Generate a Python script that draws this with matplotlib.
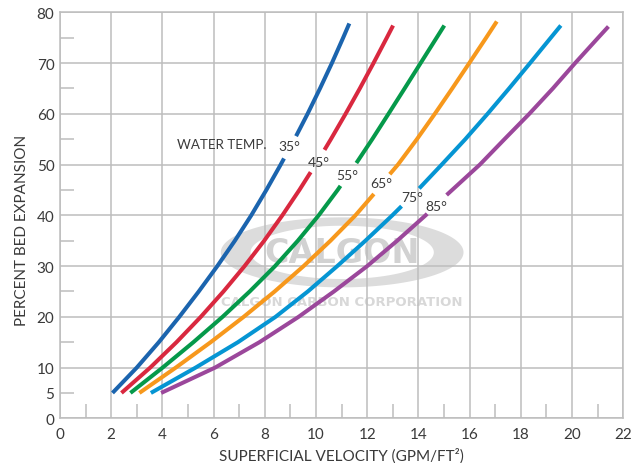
import matplotlib
matplotlib.use("Agg")
import matplotlib.pyplot as plt
import numpy as np
from matplotlib.patches import Polygon
from matplotlib.ticker import FixedLocator, FixedFormatter

plt.rcParams["font.family"] = ["Lato", "DejaVu Sans"]

# velocity (gpm/ft2) vs percent bed expansion
# each curve is broken where its temperature label sits
temps = ["35°", "45°", "55°", "65°", "75°", "85°"]
colors = ["#1b64ae", "#d9283f", "#05994a", "#f7981c", "#0595d3", "#9b479b"]

e35_low = [5, 10, 15, 20, 25, 30, 35, 40, 45, 50, 51.2]
v35_low = [2.05, 3.0, 3.86, 4.66, 5.42, 6.145, 6.83, 7.47, 8.06, 8.62, 8.75]
e35_up = [55.6, 60, 65, 70, 75, 77.8]
v35_up = [9.22, 9.67, 10.155, 10.62, 11.06, 11.30]

e45_low = [5, 10, 15, 20, 25, 30, 35, 40, 45, 48.5]
v45_low = [2.4, 3.525, 4.55, 5.5, 6.385, 7.21, 7.975, 8.685, 9.35, 9.79]
e45_up = [52.9, 55, 60, 65, 70, 75, 77.4]
v45_up = [10.33, 10.58, 11.155, 11.71, 12.245, 12.765, 13.01]

e55_low = [5, 10, 15, 20, 25, 30, 35, 40, 45, 45.8]
v55_low = [2.75, 4.01, 5.21, 6.35, 7.41, 8.40, 9.29, 10.105, 10.845, 10.955]
e55_up = [50.3, 55, 60, 65, 70, 75, 77.4]
v55_up = [11.575, 12.195, 12.83, 13.46, 14.085, 14.71, 15.01]

e65_low = [5, 10, 15, 20, 25, 30, 35, 40, 44.2]
v65_low = [3.1, 4.525, 5.885, 7.175, 8.385, 9.515, 10.565, 11.54, 12.26]
e65_up = [48.1, 50, 55, 60, 65, 70, 75, 78.2]
v65_up = [12.88, 13.2, 13.94, 14.64, 15.32, 15.985, 16.645, 17.06]

e75_low = [5, 10, 15, 20, 25, 30, 35, 40, 41.8]
v75_low = [3.55, 5.3, 6.95, 8.42, 9.68, 10.83, 11.93, 12.98, 13.34]
e75_up = [45.3, 50, 55, 60, 65, 70, 75, 77.4]
v75_up = [14.03, 14.91, 15.83, 16.7, 17.54, 18.36, 19.17, 19.56]

e85_low = [5, 10, 15, 20, 25, 30, 35, 40, 40.3]
v85_low = [3.95, 6.06, 7.79, 9.32, 10.7, 12.0, 13.17, 14.28, 14.34]
e85_up = [44, 50, 55, 60, 65, 70, 75, 77.2]
v85_up = [15.1, 16.4, 17.36, 18.33, 19.25, 20.12, 21.02, 21.42]

curves = [
    (v35_low, e35_low, v35_up, e35_up),
    (v45_low, e45_low, v45_up, e45_up),
    (v55_low, e55_low, v55_up, e55_up),
    (v65_low, e65_low, v65_up, e65_up),
    (v75_low, e75_low, v75_up, e75_up),
    (v85_low, e85_low, v85_up, e85_up),
]

label_x = [8.96, 10.12, 11.22, 12.53, 13.74, 14.69]
label_y = [53.6, 50.6, 48.0, 46.3, 43.7, 41.8]

grid_col = "#bdbdbd"
text_col = "#3a3a3a"

fig = plt.figure(figsize=(6.39, 4.64), dpi=100)
ax = fig.add_axes([0.0939, 0.0963, 0.8815, 0.875])

# watermark ring + text
cx, cy = 11.02, 32.7
t = np.linspace(0, 2 * np.pi, 200)
outer = np.column_stack([cx + 4.74 * np.cos(t), cy + 6.9 * np.sin(t)])
inner = np.column_stack([cx + 3.58 * np.cos(t[::-1]), cy + 5.25 * np.sin(t[::-1])])
ring = Polygon(np.vstack([outer, inner]), closed=True, fc="#dcdcdc", ec="none", zorder=0.5)
ax.add_patch(ring)
ax.text(cx, cy, "CALGON", ha="center", va="center", fontsize=24, fontweight="bold",
        color="#d2d2d2", family=["DejaVu Sans"], zorder=0.6)
ax.text(cx, 23.1, "CALGON CARBON CORPORATION", ha="center", va="center", fontsize=9.5,
        fontweight="bold", color="#d8d8d8", family=["DejaVu Sans"], zorder=0.6)

for (xl, yl, xu, yu), c in zip(curves, colors):
    ax.plot(xl, yl, color=c, lw=2.9, solid_capstyle="butt", zorder=3)
    ax.plot(xu, yu, color=c, lw=2.9, solid_capstyle="butt", zorder=3)

ax.text(4.56, 54.0, "WATER TEMP.", ha="left", va="center", fontsize=9.6, color=text_col)
for lx, ly, tt in zip(label_x, label_y, temps):
    ax.text(lx, ly, tt, ha="center", va="center", fontsize=10, color=text_col)

ax.set_xlim(0, 22)
ax.set_ylim(0, 80)
ax.set_xticks(range(0, 23, 2))
ax.set_yticks(range(0, 81, 10))
ax.xaxis.set_minor_locator(FixedLocator(list(range(1, 22, 2))))
ax.yaxis.set_minor_locator(FixedLocator(list(range(5, 80, 10))))
ax.yaxis.set_minor_formatter(FixedFormatter(["5"] + [""] * 7))
ax.grid(True, which="major", color=grid_col, lw=1.1)
ax.tick_params(which="major", length=0, labelsize=11, labelcolor=text_col)
ax.tick_params(axis="x", which="major", pad=6)
ax.tick_params(axis="y", which="major", pad=4)
ax.tick_params(which="minor", direction="in", length=10, width=1.1, color=grid_col,
               labelsize=11, labelcolor=text_col)
ax.tick_params(axis="y", which="minor", pad=4)
for s in ax.spines.values():
    s.set_color(grid_col)
    s.set_linewidth(1.1)

ax.set_xlabel("SUPERFICIAL VELOCITY (GPM/FT²)", fontsize=11, color=text_col)
ax.set_ylabel("PERCENT BED EXPANSION", fontsize=11, color=text_col)
ax.xaxis.set_label_coords(0.5, -0.09)
ax.xaxis.label.set_va("center")
ax.yaxis.set_label_coords(-0.0675, 0.466)
ax.yaxis.label.set_va("center")

fig.savefig("out.png", dpi=100)
